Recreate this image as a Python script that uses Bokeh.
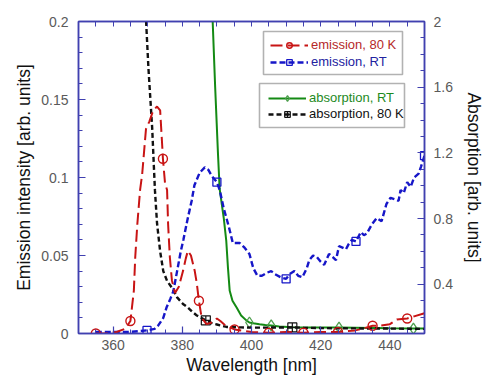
from bokeh.plotting import figure
from bokeh.models import (LinearAxis, Range1d, SingleIntervalTicker, FixedTicker,
                          CustomJSTickFormatter, Legend, LegendItem, BoxAnnotation)
from bokeh.embed import file_html
from bokeh.resources import INLINE

# ---------------- data ----------------
# Emission, 80 K (left axis)
em80_x = [355, 358, 361, 363.5, 365, 366, 366.4, 367, 367.8, 368.4, 369.5, 370.5, 371.6, 372.7,
          373.6, 374.1, 374.4, 375, 375.6, 375.9, 376.4, 377, 377.9, 379, 380.2, 381.0, 381.6,
          382.5, 383.6, 384.2, 384.8, 385.6, 387, 388.5, 390, 391, 392.5, 393.7, 395.1, 400,
          405, 410, 415, 420, 425, 430, 432, 435, 437, 440, 442, 445, 447, 450]
em80_y = [0.0, 0.0, 0.001, 0.003, 0.008, 0.0275, 0.049, 0.07, 0.092, 0.102, 0.131, 0.136, 0.143,
          0.1455, 0.143, 0.124, 0.112, 0.0965, 0.092, 0.07, 0.049, 0.034, 0.026, 0.03, 0.04, 0.048,
          0.053, 0.05, 0.04, 0.032, 0.021, 0.01, 0.006, 0.007, 0.0096, 0.008, 0.005, 0.004, 0.0026,
          0.001, 0.0005, 0.001, 0.0005, 0.001, 0.001, 0.002, 0.003, 0.005, 0.005, 0.006, 0.009,
          0.0096, 0.011, 0.013]
em80_mx = [355, 365, 374.4, 384.8, 395.1, 405, 415, 425, 435, 445]
em80_my = [0.0, 0.008, 0.112, 0.021, 0.0026, 0.0005, 0.0005, 0.001, 0.005, 0.0096]

# Emission, RT (left axis)
emrt_x = [355, 360, 365, 369.8, 372, 373, 374.5, 375.5, 376.5, 377.4, 378.5, 379.5, 380.3, 381.5,
          382.7, 383.5, 385, 386.5, 387.5, 388.5, 390, 390.8, 392, 393.5, 394.6, 396.6, 398,
          399.4, 400.5, 401.7, 403, 404.5, 405.7, 406.8, 408.5, 410, 411, 412.4, 413.5, 414.7,
          416, 416.7, 417.8, 418.9, 420, 421, 422.4, 423.5, 424.4, 425.3, 426.3, 427.3, 428,
          429, 430.2, 431.6, 432.5, 433.3, 434.8, 436.2, 437.6, 439, 440.2, 441.5, 442.5, 443.1,
          444, 445, 446, 447, 448.3, 449, 450]
emrt_y = [0.001, 0.001, 0.001, 0.002, 0.003, 0.005, 0.01, 0.017, 0.022, 0.027, 0.04, 0.052, 0.06,
          0.073, 0.085, 0.095, 0.103, 0.1065, 0.105, 0.101, 0.097, 0.092, 0.08, 0.068, 0.058,
          0.058, 0.055, 0.051, 0.042, 0.037, 0.037, 0.039, 0.040, 0.038, 0.036, 0.035, 0.038,
          0.040, 0.037, 0.036, 0.042, 0.047, 0.050, 0.049, 0.046, 0.044, 0.051, 0.049, 0.047,
          0.056, 0.055, 0.054, 0.057, 0.060, 0.059, 0.065, 0.063, 0.064, 0.070, 0.074, 0.072,
          0.083, 0.087, 0.086, 0.085, 0.092, 0.090, 0.097, 0.094, 0.100, 0.1025, 0.107, 0.114]
emrt_mx = [369.8, 390, 410, 430.2, 450]
emrt_my = [0.002, 0.097, 0.035, 0.059, 0.114]

# Absorption, RT (right axis)
abrt_x = [388.6, 389.5, 390.3, 390.8, 392, 392.7, 393.2, 393.7, 394.5, 395.7, 397, 398.5, 399.4,
          400.5, 402.3, 404, 405.7, 408, 411.8, 415, 420, 425.3, 430, 435, 440, 446.8, 450]
abrt_y = [2.1, 1.6, 1.2, 0.98, 0.80, 0.666, 0.5, 0.36, 0.3, 0.258, 0.21, 0.18, 0.167, 0.163,
          0.157, 0.152, 0.149, 0.143, 0.138, 0.137, 0.137, 0.136, 0.135, 0.134, 0.132, 0.13, 0.13]
abrt_mx = [399.4, 405.7, 425.3, 446.8]
abrt_my = [0.167, 0.149, 0.136, 0.13]

# Absorption, 80 K (right axis)
ab80_x = [369.3, 370.2, 371.3, 371.8, 372.1, 372.7, 373.6, 374.5, 375.6, 377.3, 378.5, 380.2,
          381.5, 383, 384.2, 386.8, 388.8, 390, 392.8, 394.6, 397, 400, 405, 411.8, 415, 420,
          425, 430, 440, 450]
ab80_y = [2.1, 1.72, 1.35, 1.11, 0.97, 0.77, 0.6, 0.48, 0.42, 0.37, 0.32, 0.28, 0.26, 0.23,
          0.21, 0.18, 0.16, 0.155, 0.14, 0.138, 0.137, 0.136, 0.136, 0.137, 0.135, 0.133, 0.132,
          0.131, 0.13, 0.128]
ab80_mx = [386.8, 411.8]
ab80_my = [0.18, 0.137]

labels = ["emission, 80 K", "emission, RT", "absorption, RT", "absorption, 80 K"]

# tick marks of the unlabeled top axis (nm)
top_ticks = [355, 360, 365, 370, 375, 380, 385, 390, 395, 400, 405, 410, 415, 420, 425, 430,
             435, 440, 445]

# ---------------- figure ----------------
AX = "#4040b0"
FONT = "Liberation Sans"

p = figure(width=486, height=377, output_backend="svg", toolbar_location=None,
           x_range=Range1d(350, 450), y_range=Range1d(0, 0.2),
           min_border_left=78, min_border_right=60, min_border_top=21, min_border_bottom=44)
p.extra_y_ranges = {"abs": Range1d(0.1, 2.0)}
p.grid.visible = False
p.outline_line_color = AX
p.outline_line_width = 1.5
p.background_fill_color = "white"
p.border_fill_color = "white"

fmt = CustomJSTickFormatter(code="return parseFloat(tick.toFixed(3)).toString();")


def style_axis(ax):
    ax.axis_line_color = AX
    ax.axis_line_width = 1.5
    ax.major_tick_line_color = AX
    ax.minor_tick_line_color = AX
    ax.major_tick_line_width = 1.2
    ax.minor_tick_line_width = 1.0
    ax.major_tick_in = 7
    ax.major_tick_out = 0
    ax.minor_tick_in = 4
    ax.minor_tick_out = 0
    ax.major_label_text_font = FONT
    ax.major_label_text_font_size = "14px"
    ax.major_label_text_color = "#5a5a5a"
    ax.axis_label_text_font = FONT
    ax.axis_label_text_font_size = "17.5px"
    ax.axis_label_text_font_style = "normal"
    ax.axis_label_text_color = "#111111"


xa = p.xaxis[0]
xa.ticker = SingleIntervalTicker(interval=20, num_minor_ticks=4)
xa.axis_label = "Wavelength [nm]"
style_axis(xa)
xa.major_label_standoff = 6
xa.axis_label_standoff = 2

ya = p.yaxis[0]
ya.ticker = SingleIntervalTicker(interval=0.05, num_minor_ticks=5)
ya.formatter = fmt
ya.axis_label = "Emission intensity [arb. units]"
style_axis(ya)
ya.major_label_standoff = 10
ya.axis_label_standoff = 4

top = LinearAxis(ticker=FixedTicker(ticks=[], minor_ticks=top_ticks))
style_axis(top)
top.minor_tick_in = 5
top.major_label_standoff = 0
p.add_layout(top, "above")

ra = LinearAxis(y_range_name="abs", ticker=SingleIntervalTicker(interval=0.4, num_minor_ticks=4),
                formatter=fmt, axis_label="Absorption [arb. units]")
style_axis(ra)
ra.major_label_standoff = 9
ra.axis_label_standoff = 8
p.add_layout(ra, "right")

# ---------------- glyphs ----------------
RED = "#c81414"
BLUE = "#1616c8"
GREEN = "#148a14"
BLACK = "#111111"

l_abrt = p.line(abrt_x, abrt_y, y_range_name="abs", line_color=GREEN, line_width=2)
m_abrt = p.scatter(abrt_mx, abrt_my, y_range_name="abs", marker="diamond", size=11,
                   line_color="#4f9f4f", fill_color=None, line_width=1.3)
l_ab80 = p.line(ab80_x, ab80_y, y_range_name="abs", line_color=BLACK, line_width=2.4,
                line_dash="5 3")
m_ab80 = p.scatter(ab80_mx, ab80_my, y_range_name="abs", marker="square_cross", size=9,
                   line_color=BLACK, fill_color=None, line_width=1.2)
l_emrt = p.line(emrt_x, emrt_y, line_color=BLUE, line_width=2.4, line_dash="6 3")
m_emrt = p.scatter(emrt_mx, emrt_my, marker="square", size=8, line_color=BLUE,
                   fill_color=None, line_width=1.3)
l_em80 = p.line(em80_x, em80_y, line_color=RED, line_width=2, line_dash="12 5")
m_em80 = p.scatter(em80_mx, em80_my, marker="circle", size=9, line_color=RED,
                   fill_color=None, line_width=1.4)

# ---------------- legend frames ----------------
p.add_layout(BoxAnnotation(left=263, right=402, top=31, bottom=74,
                           left_units="canvas", right_units="canvas",
                           top_units="canvas", bottom_units="canvas",
                           fill_color="white", fill_alpha=1, line_color="black", line_width=1.6))
p.add_layout(BoxAnnotation(left=259, right=404, top=83, bottom=127,
                           left_units="canvas", right_units="canvas",
                           top_units="canvas", bottom_units="canvas",
                           fill_color="white", fill_alpha=1, line_color="black", line_width=1.6))


def add_legend(label, rends, color, loc):
    lg = Legend(items=[LegendItem(label=label, renderers=rends)], location=loc,
                label_text_color=color, label_text_font=FONT, label_text_font_size="13px",
                border_line_alpha=0, background_fill_alpha=0, padding=0, margin=0, spacing=0,
                glyph_width=38, glyph_height=14, label_height=14, label_standoff=3)
    p.add_layout(lg)


add_legend(labels[0], [l_em80, m_em80], "#b52828", (192, 281))
add_legend(labels[1], [l_emrt, m_emrt], "#2222a0", (192, 264))
add_legend(labels[2], [l_abrt, m_abrt], "#1e8a1e", (190, 228))
add_legend(labels[3], [l_ab80, m_ab80], "#111111", (190, 212))

open("out.html", "w").write(file_html(p, INLINE))
